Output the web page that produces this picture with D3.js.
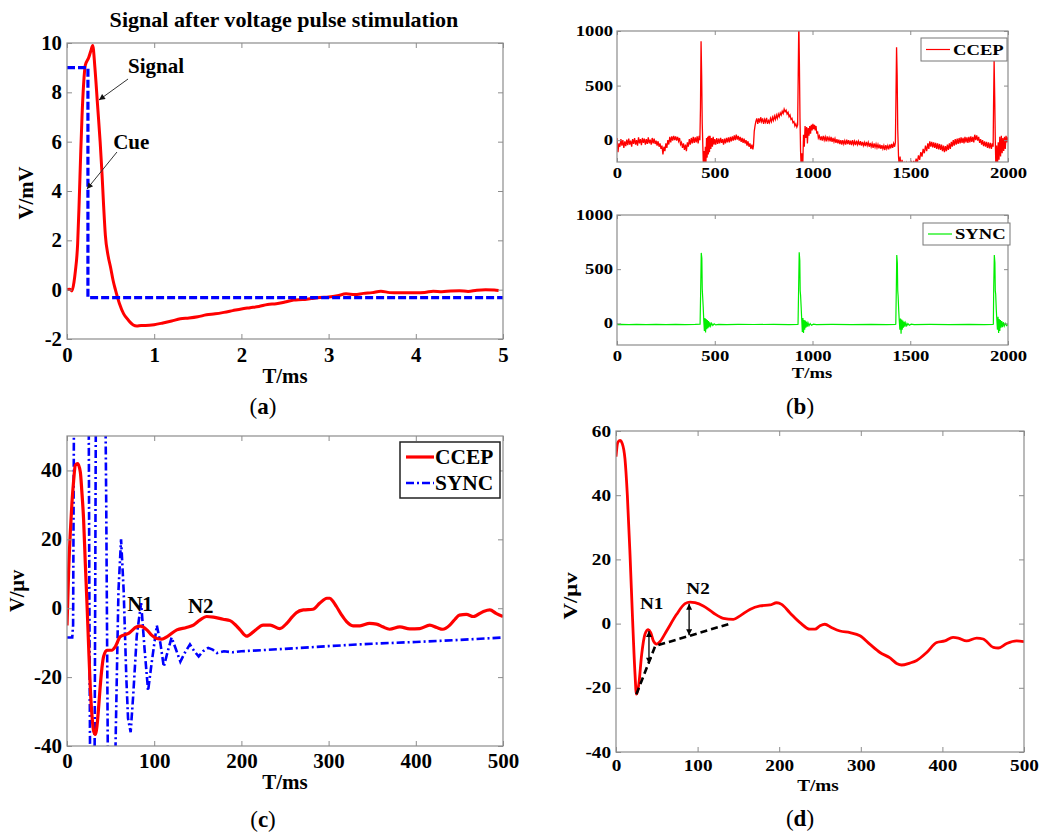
<!DOCTYPE html>
<html><head><meta charset="utf-8">
<script src="https://cdn.jsdelivr.net/npm/d3@7"></script>
<style>body{margin:0;background:#fff}svg{display:block}</style>
</head><body>
<svg id="chart" width="1042" height="832"></svg>
<script>
// ---------- Panel (a) data: Signal after voltage pulse stimulation ----------
const aTitle = "Signal after voltage pulse stimulation";
const aXTicks = [0, 1, 2, 3, 4, 5];
const aYTicks = [-2, 0, 2, 4, 6, 8, 10];
const aSignal = [[0,0],[0.03,0.02],[0.057,-0.05],[0.08,0.3],[0.096,0.75],[0.122,1.85],[0.14,3.6],[0.157,5.5],[0.172,7.0],[0.19,8.3],[0.21,9.1],[0.248,9.4],[0.275,9.7],[0.295,9.9],[0.32,9.0],[0.35,7.5],[0.38,6.0],[0.40,4.8],[0.42,3.4],[0.44,2.2],[0.47,1.4],[0.5,0.9],[0.53,0.35],[0.555,0],[0.6,-0.55],[0.65,-0.98],[0.7,-1.22],[0.76,-1.43],[0.8,-1.47],[0.85,-1.45],[0.9,-1.45],[1.0,-1.42],[1.1,-1.35],[1.2,-1.27],[1.3,-1.18],[1.4,-1.15],[1.5,-1.1],[1.6,-1.02],[1.7,-0.98],[1.8,-0.92],[1.9,-0.85],[2.0,-0.78],[2.1,-0.73],[2.2,-0.68],[2.3,-0.6],[2.4,-0.57],[2.5,-0.5],[2.6,-0.42],[2.7,-0.4],[2.8,-0.36],[2.9,-0.32],[3.0,-0.3],[3.1,-0.25],[3.2,-0.17],[3.3,-0.2],[3.4,-0.15],[3.5,-0.12],[3.6,-0.06],[3.7,-0.12],[3.8,-0.13],[3.9,-0.12],[4.0,-0.12],[4.1,-0.11],[4.2,-0.06],[4.3,-0.08],[4.4,-0.05],[4.5,-0.04],[4.6,-0.07],[4.7,-0.02],[4.8,0.0],[4.9,-0.01],[4.95,-0.03]];
const aCue = [[0,9],[0.24,9],[0.24,-0.32],[5,-0.32]];
const aNotes = [
  {text:"Signal", tx:0.70, ty:8.78, from:[0.70,8.54], to:[0.367,7.69]},
  {text:"Cue", tx:0.53, ty:5.70, from:[0.573,5.58], to:[0.229,4.08]}
];

// ---------- Panel (b) data ----------
const bXTicks = [0, 500, 1000, 1500, 2000];
const bYTicks = [0, 500, 1000];
const bCCEP = [[0,20],[5,-110],[10,-30],[15,-60],[20,10],[25,-50],[30,0],[35,-70],[40,-10],[45,-55],[50,5],[55,-45],[60,15],[65,-40],[70,-5],[75,-60],[80,10],[85,-35],[90,20],[95,-40],[100,0],[105,-50],[110,25],[115,-30],[120,10],[125,-45],[130,20],[135,-25],[140,15],[145,-40],[150,10],[155,-35],[160,25],[165,-30],[170,5],[175,-40],[180,20],[185,-30],[190,15],[195,-35],[200,-5],[205,-50],[210,-10],[215,-60],[220,-30],[225,-80],[230,-50],[235,-130],[240,-60],[245,-100],[250,-30],[255,-70],[260,0],[265,-40],[270,30],[275,-20],[280,35],[285,-5],[290,40],[295,0],[300,35],[305,-5],[310,30],[315,-10],[320,20],[325,-40],[330,-20],[335,-70],[340,-30],[345,-90],[350,-40],[355,-100],[360,-20],[365,-60],[370,10],[375,-40],[380,20],[385,-30],[390,30],[395,-25],[400,25],[405,-20],[410,35],[415,-30],[420,40],[424,0],
[427,300],[430,905],[433,600],[436,150],[439,-50],[442,-250],[445,-100],[448,-250],[452,-60],[455,-200],[458,20],[461,-160],[464,30],[467,-130],[470,40],[473,-110],[476,40],[480,-80],[484,20],[488,-60],[492,30],[496,-40],
[500,10],[505,-40],[510,20],[515,-35],[520,15],[525,-30],[530,20],[535,-25],[540,10],[545,-40],[550,15],[555,-30],[560,20],[565,-20],[570,25],[575,-20],[580,30],[585,-10],[590,35],[595,-5],[600,45],[605,0],[610,50],[615,5],[620,40],[625,-5],[630,30],[635,-15],[640,20],[645,-25],[650,15],[655,-30],[660,0],[665,-50],[670,-10],[675,-60],[680,-30],[685,-80],[690,-40],[695,-85],[698,-50],
[702,80],[706,130],[710,170],[715,200],[720,150],[725,200],[730,160],[735,210],[740,170],[745,200],[750,150],[755,190],[760,165],[765,205],[770,150],[775,180],[780,160],[785,200],[790,170],[795,210],[800,180],[805,220],[810,190],[815,230],[820,200],[825,240],[830,215],[835,250],[840,230],[845,265],[850,245],[855,285],[860,260],[865,275],[870,240],[875,255],[880,215],[885,230],[890,190],[895,200],[900,160],[905,170],[910,130],[915,150],[920,120],[924,140],
[927,600],[930,1100],[933,700],[936,200],[939,-100],[942,-250],[946,-120],[950,-250],[954,50],[958,-60],[962,130],[966,20],[970,120],[974,-30],[978,110],[982,40],[986,130],[990,60],[994,140],[998,90],[1002,150],[1006,100],[1010,140],[1014,90],[1018,130],[1022,60],[1026,80],[1030,20],
[1035,40],[1040,0],[1045,35],[1050,-5],[1055,40],[1060,0],[1065,30],[1070,-10],[1075,35],[1080,0],[1085,25],[1090,-10],[1095,30],[1100,-15],[1105,20],[1110,-15],[1115,15],[1120,-25],[1125,10],[1130,-30],[1135,5],[1140,-35],[1145,0],[1150,-40],[1155,0],[1160,-35],[1165,-5],[1170,-40],[1175,5],[1180,-35],[1185,0],[1190,-40],[1195,-5],[1200,-45],[1205,0],[1210,-40],[1215,-10],[1220,-45],[1225,-5],[1230,-40],[1235,-10],[1240,-45],[1245,-10],[1250,-50],[1255,-15],[1260,-50],[1265,-20],[1270,-55],[1275,-15],[1280,-50],[1285,-20],[1290,-60],[1295,-25],[1300,-60],[1305,-30],[1310,-70],[1315,-30],[1320,-65],[1325,-35],[1330,-70],[1335,-40],[1340,-75],[1345,-40],[1350,-80],[1355,-45],[1360,-80],[1365,-50],[1370,-90],[1375,-45],[1380,-80],[1385,-50],[1390,-85],[1395,-40],[1400,-75],[1405,-35],[1410,-70],[1415,-30],[1420,-60],[1424,-20],
[1427,400],[1430,850],[1433,600],[1436,100],[1440,-150],[1444,-250],[1448,-150],[1452,-250],[1458,-180],[1464,-250],[1470,-200],[1476,-250],[1482,-210],[1488,-250],[1494,-200],[1500,-240],[1506,-190],[1512,-240],[1518,-190],[1524,-230],[1530,-170],[1536,-210],[1542,-140],[1548,-180],[1554,-110],[1560,-150],[1566,-80],[1572,-120],[1578,-50],[1584,-100],[1590,-30],[1595,-80],[1600,-10],[1605,-60],[1610,-15],[1615,-65],[1620,-20],[1625,-70],[1630,-25],[1635,-80],[1640,-30],[1645,-85],[1650,-35],[1655,-90],[1660,-40],[1665,-100],[1670,-50],[1675,-110],[1680,-55],[1685,-100],[1690,-40],[1695,-90],[1700,-30],[1705,-80],[1710,-15],[1715,-60],[1720,0],[1725,-50],[1730,10],[1735,-40],[1740,15],[1745,-35],[1750,20],[1755,-30],[1760,25],[1765,-25],[1770,20],[1775,-30],[1780,30],[1785,-20],[1790,25],[1795,-25],[1800,30],[1805,-20],[1810,35],[1815,-15],[1820,30],[1825,-20],[1830,50],[1835,0],[1840,45],[1845,-5],[1850,30],[1855,-25],[1860,10],[1865,-40],[1870,0],[1875,-55],[1880,-10],[1885,-60],[1890,-15],[1895,-70],[1900,-20],[1905,-75],[1910,-25],[1915,-80],[1920,-30],[1924,-60],
[1926,300],[1929,730],[1932,400],[1935,0],[1938,-250],[1942,-50],[1946,-250],[1950,-20],[1954,-180],[1958,30],[1962,-150],[1966,40],[1970,-120],[1974,20],[1978,-100],[1982,30],[1986,-80],[1990,40],[1995,-20],[2000,30]];
const bSYNC = [[0,0],[3,-12],[20,-10],[60,-12],[100,-9],[150,-11],[200,-10],[250,-12],[300,-9],[350,-11],[400,-10],[425,-8],
[428,300],[431,650],[434,600],[436,320],[438,250],[441,150],[444,20],[447,-70],[450,50],[453,-85],[456,40],[459,-55],[462,30],[465,-45],[468,20],[471,-35],[475,10],[479,-25],[484,0],[490,-20],[497,-5],[505,-15],[520,-10],
[560,-12],[620,-9],[700,-11],[800,-10],[880,-12],[924,-9],
[926,-8],[929,320],[932,655],[935,580],[937,300],[939,260],[942,150],[945,30],[948,-80],[951,50],[954,-90],[957,30],[960,-60],[963,25],[966,-40],[969,15],[973,-30],[977,5],[982,-22],[988,-2],[995,-18],[1005,-8],[1020,-12],
[1100,-10],[1200,-11],[1300,-9],[1380,-11],[1424,-10],
[1426,-8],[1429,350],[1431,630],[1434,560],[1436,300],[1438,250],[1441,120],[1444,20],[1447,-60],[1450,45],[1453,-95],[1456,35],[1459,-60],[1462,25],[1465,-40],[1469,15],[1473,-30],[1477,5],[1482,-22],[1488,-3],[1495,-18],[1505,-8],[1520,-12],
[1600,-10],[1700,-11],[1800,-9],[1880,-11],[1923,-10],
[1925,-8],[1927,330],[1930,630],[1933,560],[1935,300],[1937,270],[1940,130],[1943,30],[1946,-60],[1949,60],[1952,-90],[1955,40],[1958,-70],[1961,30],[1964,-40],[1968,20],[1972,-35],[1976,10],[1981,-25],[1986,0],[1993,-20],[2000,-10]];

// ---------- Panel (c) data ----------
const cXTicks = [0, 100, 200, 300, 400, 500];
const cYTicks = [-40, -20, 0, 20, 40];
const cCCEP = [[0,-5],[1.9,11],[3.8,22],[5.7,30.7],[7.6,37],[9.5,41.5],[12.2,42],[15.3,39.5],[17,34],[19,25.9],[21,13],[22.9,1.5],[24.8,-11],[26.7,-23],[28.6,-31],[30.5,-35.6],[32.4,-36.6],[35,-32.7],[36.5,-28],[38,-23],[40,-17.5],[42,-14],[45.8,-12.2],[51.5,-12.2],[55.3,-11.2],[61,-8.3],[70.6,-7.3],[80,-5.4],[84,-5.2],[91.6,-6.3],[97,-7.8],[103,-8.8],[108.8,-9],[114.5,-8.3],[126,-6.3],[137,-5.6],[145,-4.9],[152.7,-3.4],[160,-2.4],[168,-2.6],[179,-3.2],[187,-3.6],[193,-4.8],[198.5,-6.3],[206,-8.1],[214,-6.8],[225,-4.9],[233,-4.9],[244,-5.9],[252,-4.4],[258,-2.6],[263,-1.3],[271,-0.5],[282,-0.3],[290,1.5],[298,2.9],[301.5,2.9],[305,2.0],[309,0.5],[315,-2.0],[320.6,-3.9],[328,-5.1],[336,-5.1],[347,-4.4],[355,-4.6],[362,-5.4],[370,-6.1],[381.7,-5.4],[393,-6],[404.6,-5.9],[416,-4.9],[424,-5.6],[431,-6.1],[439,-4.9],[445,-3.2],[450,-2],[458,-1.8],[466,-2.4],[477,-1],[485,-0.5],[492,-1.5],[500,-2.4]];
const cSYNC = [[0,-8.5],[6,-8.5],[7,-5],[9,120],[12,400],[16,650],[20,400],[24,120],[26,-20],[28,-120],[30,-150],[32,-20],[34,120],[38,180],[42,120],[45,30],[47,-50],[50,-90],[53,-80],[56,-35],[59,5],[62,20],[65,5],[68,-20],[70,-32],[73,-36],[76,-25],[80,-8],[85,1.5],[89,-12],[93,-24],[97,-16],[103,-5],[107,-10],[111,-17],[115,-13],[120,-8.5],[125,-12],[130,-15.5],[135,-13],[141,-10.5],[146,-12.5],[151,-14],[156,-12.5],[162,-11.5],[167,-12],[172,-13],[180,-12.5],[190,-12.8],[200,-12.5],[250,-11.8],[300,-11],[350,-10.3],[400,-9.8],[450,-9.2],[500,-8.5]];
const cNotes = [{text:"N1", x:83.7, y:-0.8}, {text:"N2", x:153.4, y:-1.4}];

// ---------- Panel (d) data ----------
const dXTicks = [0, 100, 200, 300, 400, 500];
const dYTicks = [-40, -20, 0, 20, 40, 60];
const dCCEP = [[0,52],[2,56.3],[4.9,57.1],[7.8,56],[11,51.3],[13.9,40],[17.2,21.4],[20.4,0.8],[23.3,-15.7],[25,-22],[28,-18.8],[31.5,-9.5],[35.5,-3.3],[39.6,-1.9],[42.5,-2.8],[45.8,-5.4],[49.8,-6.4],[54,-5.6],[62,-2.3],[74.3,2.9],[84.6,6.2],[90.7,6.7],[96.8,6.5],[107,5.5],[119,3.4],[131.5,1.65],[143.8,1.3],[152,2.4],[164,4.4],[176.5,5.5],[188.7,5.8],[196.9,6.5],[203,6.0],[213,3.4],[225.5,0.3],[237.7,-1.75],[243.9,-1.75],[250,-0.7],[256,-0.2],[264,-1.2],[274.5,-2.3],[286.8,-2.8],[299,-3.8],[311,-6.4],[323.5,-9.0],[335.8,-10.7],[344,-12.4],[350,-12.9],[360,-12.3],[368.5,-11.5],[380.7,-9.0],[393,-5.9],[403,-5.4],[413,-4.3],[419.5,-4.5],[429.7,-5.4],[442,-4.5],[450,-4.8],[462.4,-7.4],[468.5,-7.6],[478.8,-6.2],[491,-5.4],[500,-5.6]];
const dBaseline = [[25,-22],[48,-7],[140,0]];
const dArrows = [{x:40.4, y1:-2.3, y2:-12.5}, {x:89.6, y1:6.2, y2:-3.6}];
const dNotes = [{text:"N1", x:43.7, y:4.6}, {text:"N2", x:100.5, y:9.2}];

// ---------- drawing ----------
const FONT = "'Liberation Serif','Times New Roman',serif";
const FRAME = "#8c8c8c";
const svg = d3.select("#chart");
const defs = svg.append("defs");
defs.append("marker").attr("id","arrA").attr("viewBox","0 0 10 10").attr("refX",10).attr("refY",5)
  .attr("markerUnits","userSpaceOnUse").attr("markerWidth",8).attr("markerHeight",6).attr("orient","auto")
  .append("path").attr("d","M0,0L10,5L0,10z").attr("fill","#111");
defs.append("marker").attr("id","arrD").attr("viewBox","0 0 10 10").attr("refX",10).attr("refY",5)
  .attr("markerUnits","userSpaceOnUse").attr("markerWidth",7).attr("markerHeight",6).attr("orient","auto-start-reverse")
  .append("path").attr("d","M0,0L10,5L0,10z").attr("fill","#000");

function stretch(sel, s) {
  if (!s || s === 1) return;
  sel.each(function () {
    const L = this.getComputedTextLength();
    d3.select(this).attr("textLength", L * s).attr("lengthAdjust", "spacingAndGlyphs");
  });
}
function styleText(sel, fs) {
  return sel.attr("font-family", FONT).attr("font-size", fs).attr("font-weight", "bold").attr("fill", "#000");
}

function panel(o) {
  const g = svg.append("g");
  const x = d3.scaleLinear().domain(o.xDomain).range([o.left, o.right]);
  const y = d3.scaleLinear().domain(o.yDomain).range([o.bottom, o.top]);
  defs.append("clipPath").attr("id", "clip" + o.id).append("rect")
    .attr("x", o.left).attr("y", o.top).attr("width", o.right - o.left).attr("height", o.bottom - o.top);
  const plot = g.append("g").attr("clip-path", `url(#clip${o.id})`);
  const tl = o.tickLen || 5;
  const mk = (axis, tx, ty, withText) => {
    const a = g.append("g").attr("transform", `translate(${tx},${ty})`).attr("color", FRAME).call(axis);
    a.select(".domain").remove();
    a.selectAll("line").attr("stroke-width", 1);
    if (withText) { styleText(a.selectAll("text"), o.fs); stretch(a.selectAll("text"), o.stretch); }
    else a.selectAll("text").remove();
    return a;
  };
  mk(d3.axisBottom(x).tickValues(o.xTicks).tickSizeInner(-tl).tickSizeOuter(0).tickPadding(o.xPad).tickFormat(d => String(d)), 0, o.bottom, true);
  mk(d3.axisLeft(y).tickValues(o.yTicks).tickSizeInner(-tl).tickSizeOuter(0).tickPadding(o.yPad).tickFormat(d => String(d)), o.left, 0, true);
  mk(d3.axisTop(x).tickValues(o.xTicks).tickSizeInner(-tl).tickSizeOuter(0), 0, o.top, false);
  mk(d3.axisRight(y).tickValues(o.yTicks).tickSizeInner(-tl).tickSizeOuter(0), o.right, 0, false);
  return { g, plot, x, y, o };
}
function frame(p) {
  p.g.append("rect").attr("x", p.o.left).attr("y", p.o.top).attr("width", p.o.right - p.o.left)
    .attr("height", p.o.bottom - p.o.top).attr("fill", "none").attr("stroke", FRAME).attr("stroke-width", 1.2);
}
function addText(g, txt, x, y, fs, anchor, s, rotate) {
  const t = g.append("text").text(txt).attr("text-anchor", anchor || "middle");
  if (rotate) t.attr("transform", `translate(${x},${y}) rotate(-90)`);
  else t.attr("x", x).attr("y", y);
  styleText(t, fs); stretch(t, s);
  return t;
}
function panelLabel(letter, x, y) {
  const t = svg.append("text").attr("x", x).attr("y", y).attr("text-anchor", "middle")
    .attr("font-family", FONT).attr("font-size", 23).attr("fill", "#000");
  t.append("tspan").text("(");
  t.append("tspan").text(letter).attr("font-weight", "bold");
  t.append("tspan").text(")");
}
const lineGen = (p, curve) => d3.line().x(d => p.x(d[0])).y(d => p.y(d[1])).curve(curve || d3.curveLinear);

// ----- Panel (a) -----
const pa = panel({id:"a", left:67, right:503, top:43, bottom:339, xDomain:[0,5], yDomain:[-2,10],
  xTicks:aXTicks, yTicks:aYTicks, fs:20, stretch:1.04, xPad:9, yPad:5});
pa.plot.append("path").datum(aSignal).attr("d", lineGen(pa, d3.curveMonotoneX)).attr("fill","none")
  .attr("stroke","#ff0000").attr("stroke-width",3).attr("stroke-linejoin","round");
pa.plot.append("path").datum(aCue).attr("d", lineGen(pa)).attr("fill","none")
  .attr("stroke","#0000ff").attr("stroke-width",3.2).attr("stroke-dasharray","8,3");
frame(pa);
addText(pa.g, aTitle, 284, 27, 21, "middle", 1.05);
addText(pa.g, "T/ms", 285, 383, 20, "middle", 1.04);
addText(pa.g, "V/mV", 33, 193, 20, "middle", 1.04, true);
aNotes.forEach(n => {
  pa.g.append("line").attr("x1", pa.x(n.from[0])).attr("y1", pa.y(n.from[1]))
    .attr("x2", pa.x(n.to[0])).attr("y2", pa.y(n.to[1])).attr("stroke","#333").attr("stroke-width",1)
    .attr("marker-end","url(#arrA)");
  addText(pa.g, n.text, pa.x(n.tx), pa.y(n.ty), 21, "start");
});
panelLabel("a", 263, 414);

// ----- Panel (b) top -----
const pb1 = panel({id:"b1", left:617, right:1008, top:31, bottom:162, xDomain:[0,2000], yDomain:[-200,1000],
  xTicks:bXTicks, yTicks:bYTicks, fs:14, stretch:1.33, xPad:6, yPad:4, tickLen:4});
pb1.plot.append("path").datum(bCCEP).attr("d", lineGen(pb1)).attr("fill","none")
  .attr("stroke","#ff0000").attr("stroke-width",1.3);
frame(pb1);
function legendB(p, x0, y0, w, h, color, label) {
  p.g.append("rect").attr("x", x0).attr("y", y0).attr("width", w).attr("height", h)
    .attr("fill", "#fff").attr("stroke", "#777").attr("stroke-width", 1);
  p.g.append("line").attr("x1", x0 + 5).attr("x2", x0 + 29).attr("y1", y0 + h / 2).attr("y2", y0 + h / 2)
    .attr("stroke", color).attr("stroke-width", 1.2);
  addText(p.g, label, x0 + 32, y0 + h / 2 + 5, 14, "start", 1.33);
}
legendB(pb1, 921, 38, 86, 23, "#ff0000", "CCEP");

// ----- Panel (b) bottom -----
const pb2 = panel({id:"b2", left:617, right:1008, top:215, bottom:345, xDomain:[0,2000], yDomain:[-200,1000],
  xTicks:bXTicks, yTicks:bYTicks, fs:14, stretch:1.33, xPad:6, yPad:4, tickLen:4});
pb2.plot.append("path").datum(bSYNC).attr("d", lineGen(pb2)).attr("fill","none")
  .attr("stroke","#00ee00").attr("stroke-width",1.2);
frame(pb2);
legendB(pb2, 923, 223, 87, 22, "#00ee00", "SYNC");
addText(pb2.g, "T/ms", 812, 378, 14, "middle", 1.33);
panelLabel("b", 800, 414);

// ----- Panel (c) -----
const pc = panel({id:"c", left:67, right:503, top:436, bottom:746, xDomain:[0,500], yDomain:[-40,50],
  xTicks:cXTicks, yTicks:cYTicks, fs:20, stretch:1.05, xPad:8, yPad:5});
pc.plot.append("path").datum(cSYNC).attr("d", lineGen(pc)).attr("fill","none")
  .attr("stroke","#0000ff").attr("stroke-width",2.6).attr("stroke-dasharray","8,3,2,3");
pc.plot.append("path").datum(cCCEP).attr("d", lineGen(pc, d3.curveMonotoneX)).attr("fill","none")
  .attr("stroke","#ff0000").attr("stroke-width",3.2).attr("stroke-linejoin","round");
frame(pc);
cNotes.forEach(n => addText(pc.g, n.text, pc.x(n.x), pc.y(n.y), 20, "middle", 1.05));
addText(pc.g, "T/ms", 285, 789, 20, "middle", 1.05);
addText(pc.g, "V/μv", 24, 591, 20, "middle", 1.02, true);
pc.g.append("rect").attr("x", 400).attr("y", 442).attr("width", 100).attr("height", 56)
  .attr("fill", "#fff").attr("stroke", "#222").attr("stroke-width", 1.5);
pc.g.append("line").attr("x1", 406).attr("x2", 434).attr("y1", 457).attr("y2", 457)
  .attr("stroke", "#ff0000").attr("stroke-width", 3.2);
pc.g.append("line").attr("x1", 406).attr("x2", 434).attr("y1", 483).attr("y2", 483)
  .attr("stroke", "#0000ff").attr("stroke-width", 2.6).attr("stroke-dasharray", "8,3,2,3");
addText(pc.g, "CCEP", 435, 464, 20, "start", 1.07);
addText(pc.g, "SYNC", 435, 490, 20, "start", 1.07);
panelLabel("c", 263, 827);

// ----- Panel (d) -----
const pd = panel({id:"d", left:616, right:1024, top:431, bottom:752, xDomain:[0,500], yDomain:[-40,60],
  xTicks:dXTicks, yTicks:dYTicks, fs:16, stretch:1.2, xPad:8, yPad:5});
pd.plot.append("path").datum(dCCEP).attr("d", lineGen(pd, d3.curveMonotoneX)).attr("fill","none")
  .attr("stroke","#ff0000").attr("stroke-width",2.8).attr("stroke-linejoin","round");
pd.plot.append("path").datum(dBaseline).attr("d", lineGen(pd)).attr("fill","none")
  .attr("stroke","#000").attr("stroke-width",2.6).attr("stroke-dasharray","7,4");
dArrows.forEach(a => {
  pd.g.append("line").attr("x1", pd.x(a.x)).attr("x2", pd.x(a.x)).attr("y1", pd.y(a.y1)).attr("y2", pd.y(a.y2))
    .attr("stroke", "#000").attr("stroke-width", 1.3)
    .attr("marker-start", "url(#arrD)").attr("marker-end", "url(#arrD)");
});
frame(pd);
dNotes.forEach(n => addText(pd.g, n.text, pd.x(n.x), pd.y(n.y), 16, "middle", 1.2));
addText(pd.g, "T/ms", 818, 791, 16, "middle", 1.2);
addText(pd.g, "V/μv", 577, 596, 19, "middle", 1.2, true);
panelLabel("d", 800, 826);
</script>
</body></html>
